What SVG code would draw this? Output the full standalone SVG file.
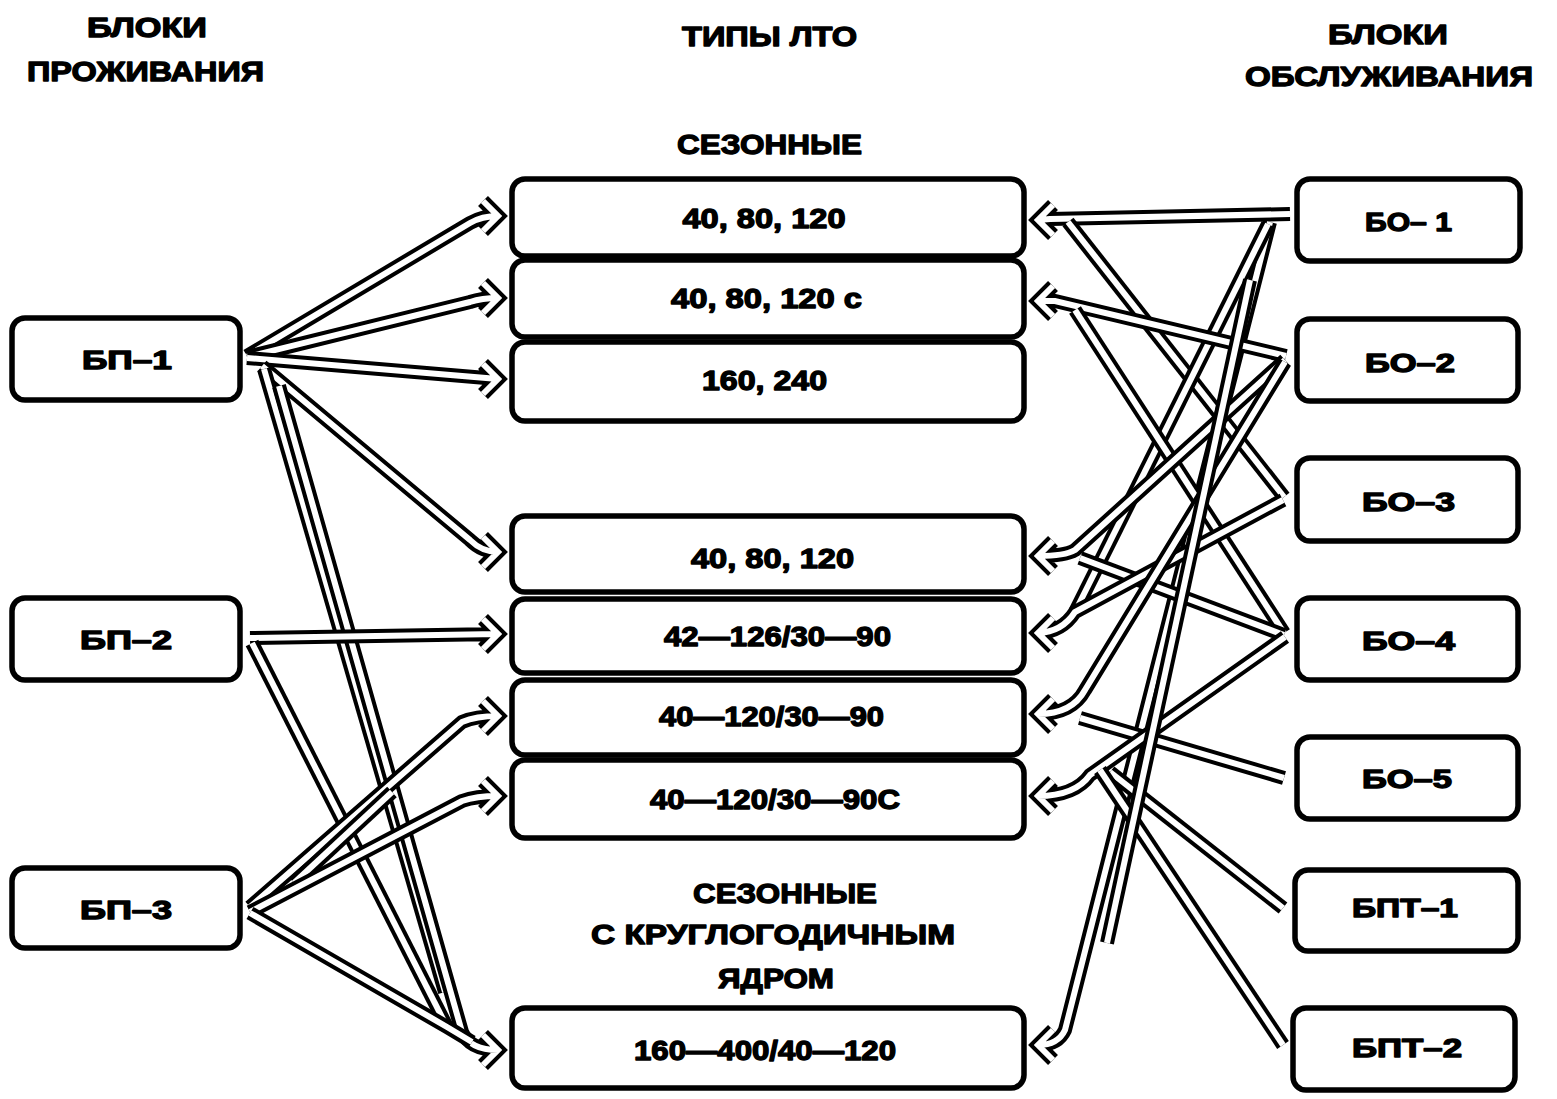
<svg xmlns="http://www.w3.org/2000/svg" xmlns:xlink="http://www.w3.org/1999/xlink" width="1557" height="1099" viewBox="0 0 1557 1099">
<style>
.box{fill:#fff;stroke:#000;stroke-width:5.5}
.t{font-family:"Liberation Sans",Arial,sans-serif;font-weight:bold;fill:#000;stroke:#000;stroke-width:1.3;stroke-linejoin:round;text-anchor:middle}
.h{font-size:28px}
.m{font-size:27px}
.s{font-size:25px}
.o{fill:none;stroke:#000;stroke-width:14;stroke-linejoin:miter;stroke-miterlimit:4}
.i{fill:none;stroke:#fff;stroke-width:6;stroke-linejoin:miter;stroke-miterlimit:4}
</style>
<defs>
<path id="p1" d="M247,356 L470,223 Q482,216 498,216 M483,201 L498,216 L483,231"/>
<path id="p2" d="M247,357 L470,302 Q482,298 498,298 M483,283 L498,298 L483,313"/>
<path id="p3" d="M247,358 L498,379 M483,364 L498,379 L483,394"/>
<path id="p4" d="M262,366 L470,540 Q482,552 498,552 M483,537 L498,552 L483,567"/>
<path id="p5" d="M264,369 L445,992"/>
<path id="p6" d="M279,386 L462,1032 Q470,1050 498,1050 M483,1035 L498,1050 L483,1065"/>
<path id="p7" d="M250,638 L498,634 M483,619 L498,634 L483,649"/>
<path id="p8" d="M252,643 L447,1027"/>
<path id="p9" d="M250,907 L462,722 Q476,716 498,716 M483,701 L498,716 L483,731"/>
<path id="p9b" d="M294,883 L392,792"/>
<path id="p10" d="M250,912 L462,801 Q476,796 498,796 M483,781 L498,796 L483,811"/>
<path id="p11" d="M250,913 L447,1027 L472,1042"/>
<path id="r1" d="M1290,214 L1050,219 L1038,220 M1053,205 L1038,220 L1053,235"/>
<path id="r2" d="M1068,222 L1284,497"/>
<path id="r3" d="M1270,222 L1065,1030 Q1058,1045 1038,1045 M1053,1030 L1038,1045 L1053,1060"/>
<path id="r4" d="M1268,224 L1075,612"/>
<path id="r5" d="M1286,356 L1055,301 L1038,301 M1053,286 L1038,301 L1053,316"/>
<path id="r6" d="M1075,310 L1284,633"/>
<path id="r7" d="M1285,360 L1075,550 Q1065,556 1038,556 M1053,541 L1038,556 L1053,571"/>
<path id="r8" d="M1080,558 L1284,635"/>
<path id="r9" d="M1283,500 L1075,612 Q1062,632 1038,633 M1053,618 L1038,633 L1053,648"/>
<path id="r10" d="M1285,362 L1085,690 Q1072,714 1038,714 M1053,699 L1038,714 L1053,729"/>
<path id="r11" d="M1284,778 L1080,718"/>
<path id="r12" d="M1285,637 L1090,775 Q1075,796 1038,796 M1053,781 L1038,796 L1053,811"/>
<path id="r13" d="M1283,908 L1110,772"/>
<path id="r14" d="M1283,1045 L1100,770"/>
<path id="r15" d="M1107,943 L1250,280"/>
</defs>

<g id="connectors">
<g><use xlink:href="#p1" class="o"/><use xlink:href="#p1" class="i"/></g>
<g><use xlink:href="#p2" class="o"/><use xlink:href="#p2" class="i"/></g>
<g><use xlink:href="#p3" class="o"/><use xlink:href="#p3" class="i"/></g>
<g><use xlink:href="#p4" class="o"/><use xlink:href="#p4" class="i"/></g>
<g><use xlink:href="#p5" class="o"/><use xlink:href="#p5" class="i"/></g>
<g><use xlink:href="#p6" class="o"/><use xlink:href="#p6" class="i"/></g>
<g><use xlink:href="#p7" class="o"/><use xlink:href="#p7" class="i"/></g>
<g><use xlink:href="#p8" class="o"/><use xlink:href="#p8" class="i"/></g>
<g><use xlink:href="#p9" class="o"/><use xlink:href="#p9" class="i"/></g>
<g><use xlink:href="#p9b" class="o"/><use xlink:href="#p9b" class="i"/></g>
<g><use xlink:href="#p10" class="o"/><use xlink:href="#p10" class="i"/></g>
<g><use xlink:href="#p11" class="o"/><use xlink:href="#p11" class="i"/></g>
<g><use xlink:href="#r1" class="o"/><use xlink:href="#r1" class="i"/></g>
<g><use xlink:href="#r2" class="o"/><use xlink:href="#r2" class="i"/></g>
<g><use xlink:href="#r3" class="o"/><use xlink:href="#r3" class="i"/></g>
<g><use xlink:href="#r4" class="o"/><use xlink:href="#r4" class="i"/></g>
<g><use xlink:href="#r5" class="o"/><use xlink:href="#r5" class="i"/></g>
<g><use xlink:href="#r6" class="o"/><use xlink:href="#r6" class="i"/></g>
<g><use xlink:href="#r7" class="o"/><use xlink:href="#r7" class="i"/></g>
<g><use xlink:href="#r8" class="o"/><use xlink:href="#r8" class="i"/></g>
<g><use xlink:href="#r9" class="o"/><use xlink:href="#r9" class="i"/></g>
<g><use xlink:href="#r10" class="o"/><use xlink:href="#r10" class="i"/></g>
<g><use xlink:href="#r11" class="o"/><use xlink:href="#r11" class="i"/></g>
<g><use xlink:href="#r12" class="o"/><use xlink:href="#r12" class="i"/></g>
<g><use xlink:href="#r13" class="o"/><use xlink:href="#r13" class="i"/></g>
<g><use xlink:href="#r14" class="o"/><use xlink:href="#r14" class="i"/></g>
<g><use xlink:href="#r15" class="o"/><use xlink:href="#r15" class="i"/></g>
</g>

<g id="headers">
<text class="t h" x="147" y="37" textLength="120" lengthAdjust="spacingAndGlyphs">БЛОКИ</text>
<text class="t h" x="145.5" y="81" textLength="237" lengthAdjust="spacingAndGlyphs">ПРОЖИВАНИЯ</text>
<text class="t h" x="769.5" y="45.5" textLength="175" lengthAdjust="spacingAndGlyphs">ТИПЫ ЛТО</text>
<text class="t h" x="1388" y="43.5" textLength="120" lengthAdjust="spacingAndGlyphs">БЛОКИ</text>
<text class="t h" x="1389" y="85.5" textLength="288" lengthAdjust="spacingAndGlyphs">ОБСЛУЖИВАНИЯ</text>
<text class="t h" x="769.5" y="153.5" textLength="185" lengthAdjust="spacingAndGlyphs">СЕЗОННЫЕ</text>
<text class="t h" x="785" y="902.5" textLength="184" lengthAdjust="spacingAndGlyphs">СЕЗОННЫЕ</text>
<text class="t h" x="773" y="943.5" textLength="364" lengthAdjust="spacingAndGlyphs">С КРУГЛОГОДИЧНЫМ</text>
<text class="t h" x="776" y="987.5" textLength="116" lengthAdjust="spacingAndGlyphs">ЯДРОМ</text>
</g>

<g id="bp1"><rect class="box" x="12" y="318" width="228" height="82" rx="13"/><text class="t s" x="127" y="369" textLength="90" lengthAdjust="spacingAndGlyphs">БП–1</text></g>
<g id="bp2"><rect class="box" x="12" y="598" width="228" height="82" rx="13"/><text class="t s" x="126" y="649" textLength="92" lengthAdjust="spacingAndGlyphs">БП–2</text></g>
<g id="bp3"><rect class="box" x="12" y="868" width="228" height="80" rx="13"/><text class="t s" x="126" y="919" textLength="92" lengthAdjust="spacingAndGlyphs">БП–3</text></g>

<g id="lto1"><rect class="box" x="512" y="179" width="512" height="77" rx="13"/><text class="t m" x="764" y="228" textLength="163" lengthAdjust="spacingAndGlyphs">40, 80, 120</text></g>
<g id="lto2"><rect class="box" x="512" y="260" width="512" height="77" rx="13"/><text class="t m" x="766.5" y="308" textLength="191" lengthAdjust="spacingAndGlyphs">40, 80, 120 с</text></g>
<g id="lto3"><rect class="box" x="512" y="342" width="512" height="79" rx="13"/><text class="t m" x="764.5" y="390" textLength="125" lengthAdjust="spacingAndGlyphs">160, 240</text></g>
<g id="lto4"><rect class="box" x="512" y="516" width="512" height="76" rx="13"/><text class="t m" x="772.5" y="568" textLength="163" lengthAdjust="spacingAndGlyphs">40, 80, 120</text></g>
<g id="lto5"><rect class="box" x="512" y="599" width="512" height="74" rx="13"/><text class="t m" x="777.5" y="646" textLength="227" lengthAdjust="spacingAndGlyphs">42—126/30—90</text></g>
<g id="lto6"><rect class="box" x="512" y="680" width="512" height="75" rx="13"/><text class="t m" x="771.5" y="726" textLength="225" lengthAdjust="spacingAndGlyphs">40—120/30—90</text></g>
<g id="lto7"><rect class="box" x="512" y="760" width="512" height="78" rx="13"/><text class="t m" x="775" y="809" textLength="250" lengthAdjust="spacingAndGlyphs">40—120/30—90С</text></g>
<g id="lto8"><rect class="box" x="512" y="1008" width="512" height="80" rx="13"/><text class="t m" x="765" y="1060" textLength="262" lengthAdjust="spacingAndGlyphs">160—400/40—120</text></g>

<g id="bo1"><rect class="box" x="1297" y="179" width="223" height="82" rx="13"/><text class="t s" x="1408.5" y="231" textLength="87" lengthAdjust="spacingAndGlyphs">БО– 1</text></g>
<g id="bo2"><rect class="box" x="1297" y="319" width="221" height="82" rx="13"/><text class="t s" x="1410" y="372" textLength="90" lengthAdjust="spacingAndGlyphs">БО–2</text></g>
<g id="bo3"><rect class="box" x="1297" y="458" width="221" height="83" rx="13"/><text class="t s" x="1408.5" y="511" textLength="93" lengthAdjust="spacingAndGlyphs">БО–3</text></g>
<g id="bo4"><rect class="box" x="1297" y="598" width="221" height="82" rx="13"/><text class="t s" x="1408.5" y="650" textLength="93" lengthAdjust="spacingAndGlyphs">БО–4</text></g>
<g id="bo5"><rect class="box" x="1297" y="737" width="221" height="82" rx="13"/><text class="t s" x="1407" y="788" textLength="90" lengthAdjust="spacingAndGlyphs">БО–5</text></g>
<g id="bpt1"><rect class="box" x="1295" y="870" width="223" height="81" rx="13"/><text class="t s" x="1405" y="917" textLength="106" lengthAdjust="spacingAndGlyphs">БПТ–1</text></g>
<g id="bpt2"><rect class="box" x="1293" y="1008" width="222" height="82" rx="13"/><text class="t s" x="1407" y="1057" textLength="110" lengthAdjust="spacingAndGlyphs">БПТ–2</text></g>
</svg>
